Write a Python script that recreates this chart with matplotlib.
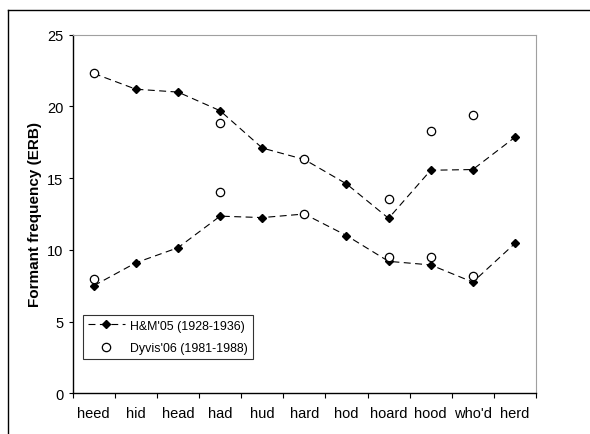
import numpy as np
import matplotlib.pyplot as plt
from matplotlib.lines import Line2D

plt.rcParams['font.family'] = ['Liberation Sans', 'DejaVu Sans']
plt.rcParams['lines.scale_dashes'] = False

words = ['heed', 'hid', 'head', 'had', 'hud', 'hard', 'hod', 'hoard', 'hood', "who'd", 'herd']
# H&M'05 (1928-1936): F2 and F1
hm_f2 = [22.3, 21.2, 21.0, 19.7, 17.1, 16.3, 14.6, 12.2, 15.55, 15.6, 17.85]
hm_f1 = [7.5, 9.1, 10.15, 12.35, 12.25, 12.5, 11.0, 9.2, 8.95, 7.75, 10.45]
# Dyvis'06 (1981-1988): missing words are nan
dy_f2 = [22.3, np.nan, np.nan, 18.85, np.nan, 16.3, np.nan, 13.55, 18.3, 19.4, np.nan]
dy_f1 = [8.0, np.nan, np.nan, 14.0, np.nan, 12.5, np.nan, 9.5, 9.5, 8.2, np.nan]

fig = plt.figure(figsize=(5.9, 4.35), dpi=100)
ax = fig.add_axes([72.7/590, 1 - 394.3/435, 463.3/590, 358.6/435])

x = np.arange(len(words))
dash = (0, (5, 3.2))
for f in (hm_f2, hm_f1):
    ax.plot(x, f, color='black', lw=0.8, linestyle=dash, marker='D', markersize=4.2,
            markerfacecolor='black', markeredgecolor='black', zorder=2)
for f in (dy_f2, dy_f1):
    ax.plot(x, f, linestyle='none', marker='o', markersize=6, markerfacecolor='white',
            markeredgecolor='black', markeredgewidth=0.9, zorder=3)

ax.set_xlim(-0.5, len(words) - 0.5)
ax.set_ylim(0, 25)
ax.set_yticks([0, 5, 10, 15, 20, 25])
ax.set_xticks(x)
ax.set_xticklabels(words, fontsize=10.5)
ax.set_xticks(np.arange(-0.5, len(words)), minor=True)
ax.tick_params(axis='x', which='major', length=0, pad=9)
ax.tick_params(axis='x', which='minor', length=3.5, width=0.8, direction='out')
ax.tick_params(axis='y', length=3.2, width=0.8, labelsize=10.5, pad=3.4)
ax.set_ylabel('Formant frequency (ERB)', fontsize=11, fontweight='bold', labelpad=4)

for s in ('top', 'right'):
    ax.spines[s].set_color('#a0a0a0')
for s in ('left', 'bottom'):
    ax.spines[s].set_color('black')
    ax.spines[s].set_linewidth(1.0)

# legend
handles = [
    Line2D([], [], color='black', lw=0.8, linestyle=dash, marker='D', markersize=4.2),
    Line2D([], [], linestyle='none', marker='o', markersize=6, markerfacecolor='white',
           markeredgecolor='black', markeredgewidth=0.9),
]
leg = ax.legend(handles, ["H&M'05 (1928-1936)", "Dyvis'06 (1981-1988)"], loc='lower left',
                bbox_to_anchor=(10/463.3, 34.3/358.6), fontsize=8.9, frameon=True,
                fancybox=False, edgecolor='black', borderpad=0.4, handlelength=3.0,
                handletextpad=0.45, labelspacing=0.85, borderaxespad=0)
leg.get_frame().set_linewidth(0.8)

# outer chart frame (top and left edges visible)
fig.add_artist(Line2D([8/590, 1], [1 - 11/435, 1 - 11/435], color='black', lw=1.0,
                      transform=fig.transFigure))
fig.add_artist(Line2D([8/590, 8/590], [0, 1 - 11/435], color='black', lw=1.0,
                      transform=fig.transFigure))

fig.savefig('out.png', dpi=100)
